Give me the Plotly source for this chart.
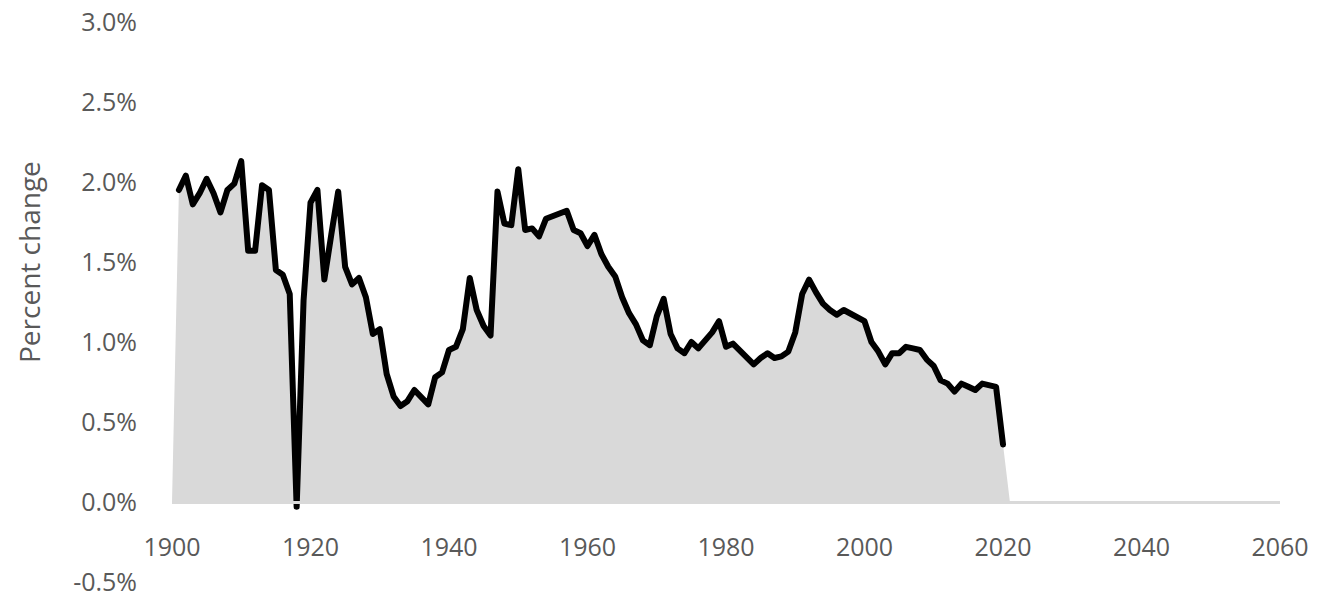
import plotly.graph_objects as go

# ---- data (annual percent change) ----
years = list(range(1901, 2021))
pct_change = [
    # 1901-1910
    1.95, 2.04, 1.86, 1.93, 2.02, 1.93, 1.81, 1.95, 1.99, 2.13,
    # 1911-1920
    1.57, 1.57, 1.98, 1.95, 1.45, 1.42, 1.30, -0.03, 1.26, 1.87,
    # 1921-1930
    1.95, 1.39, 1.67, 1.94, 1.47, 1.36, 1.40, 1.28, 1.05, 1.08,
    # 1931-1940
    0.80, 0.66, 0.60, 0.63, 0.70, 0.65, 0.61, 0.78, 0.81, 0.95,
    # 1941-1950
    0.97, 1.08, 1.40, 1.20, 1.10, 1.04, 1.94, 1.74, 1.73, 2.08,
    # 1951-1960
    1.70, 1.71, 1.66, 1.77, 1.79, 1.80, 1.82, 1.70, 1.68, 1.60,
    # 1961-1970
    1.67, 1.55, 1.47, 1.41, 1.28, 1.18, 1.11, 1.01, 0.98, 1.16,
    # 1971-1980
    1.27, 1.05, 0.96, 0.93, 1.00, 0.96, 1.01, 1.06, 1.13, 0.97,
    # 1981-1990
    0.99, 0.95, 0.91, 0.86, 0.90, 0.93, 0.90, 0.91, 0.94, 1.06,
    # 1991-2000
    1.30, 1.39, 1.31, 1.24, 1.20, 1.17, 1.20, 1.18, 1.15, 1.13,
    # 2001-2010
    1.00, 0.94, 0.86, 0.93, 0.93, 0.97, 0.96, 0.95, 0.89, 0.85,
    # 2011-2020
    0.76, 0.74, 0.69, 0.74, 0.72, 0.70, 0.74, 0.73, 0.72, 0.36,
]

# shaded area closes to zero one year before and after the line
area_years = [years[0] - 1] + years + [years[-1] + 1]
area_values = [0.0] + pct_change + [0.0]

x_tick_vals = [1900, 1920, 1940, 1960, 1980, 2000, 2020, 2040, 2060]
x_tick_labels = ["1900", "1920", "1940", "1960", "1980", "2000", "2020", "2040", "2060"]
y_tick_vals = [-0.5, 0.0, 0.5, 1.0, 1.5, 2.0, 2.5, 3.0]
y_tick_labels = ["-0.5%", "0.0%", "0.5%", "1.0%", "1.5%", "2.0%", "2.5%", "3.0%"]
y_title = "Percent change"

GREY_TEXT = "#595959"
FILL = "#d9d9d9"
FONT = "Open Sans"

fig = go.Figure()
fig.add_trace(go.Scatter(
    x=area_years, y=area_values, mode="none", fill="tozeroy",
    fillcolor=FILL, hoverinfo="skip", showlegend=False,
))
fig.add_trace(go.Scatter(
    x=years, y=pct_change, mode="lines",
    line=dict(color="#000000", width=6, shape="linear"),
    showlegend=False,
))

y_min, y_max = -0.5, 3.0
fig.update_layout(
    width=1322, height=597,
    margin=dict(l=172, r=42, t=22, b=15),
    paper_bgcolor="white", plot_bgcolor="white",
    font=dict(family=FONT, color=GREY_TEXT, size=25),
    xaxis=dict(
        range=[1900, 2060], tickmode="array", tickvals=x_tick_vals, ticktext=x_tick_labels,
        showgrid=False, zeroline=False, showline=True, linecolor=FILL, linewidth=3,
        ticks="", anchor="free", position=(0 - y_min) / (y_max - y_min), automargin=False,
        ticklabelstandoff=22, ticklabeloverflow="allow",
        tickfont=dict(size=25, color=GREY_TEXT, family=FONT),
    ),
    yaxis=dict(
        range=[y_min, y_max], tickmode="array", tickvals=y_tick_vals, ticktext=y_tick_labels,
        showgrid=False, zeroline=False, showline=False, ticks="", automargin=False,
        ticklabelstandoff=34, ticklabeloverflow="allow",
        tickfont=dict(size=25, color=GREY_TEXT, family=FONT),
    ),
    annotations=[dict(
        text=y_title, textangle=-90, xref="paper", x=(29 - 172) / 1108, xanchor="center",
        yref="y", y=1.5, yanchor="middle", showarrow=False,
        font=dict(size=28, color=GREY_TEXT, family=FONT),
    )],
)

page_style = (
    "var s=document.createElement('style');"
    "s.textContent='html,body{margin:0;padding:0;overflow:hidden;}"
    ".scatterlayer .js-line{stroke-linejoin:round;stroke-linecap:round;}';"
    "document.head.appendChild(s);"
)
fig.write_html("out.html", post_script=page_style, config={"displayModeBar": False})
